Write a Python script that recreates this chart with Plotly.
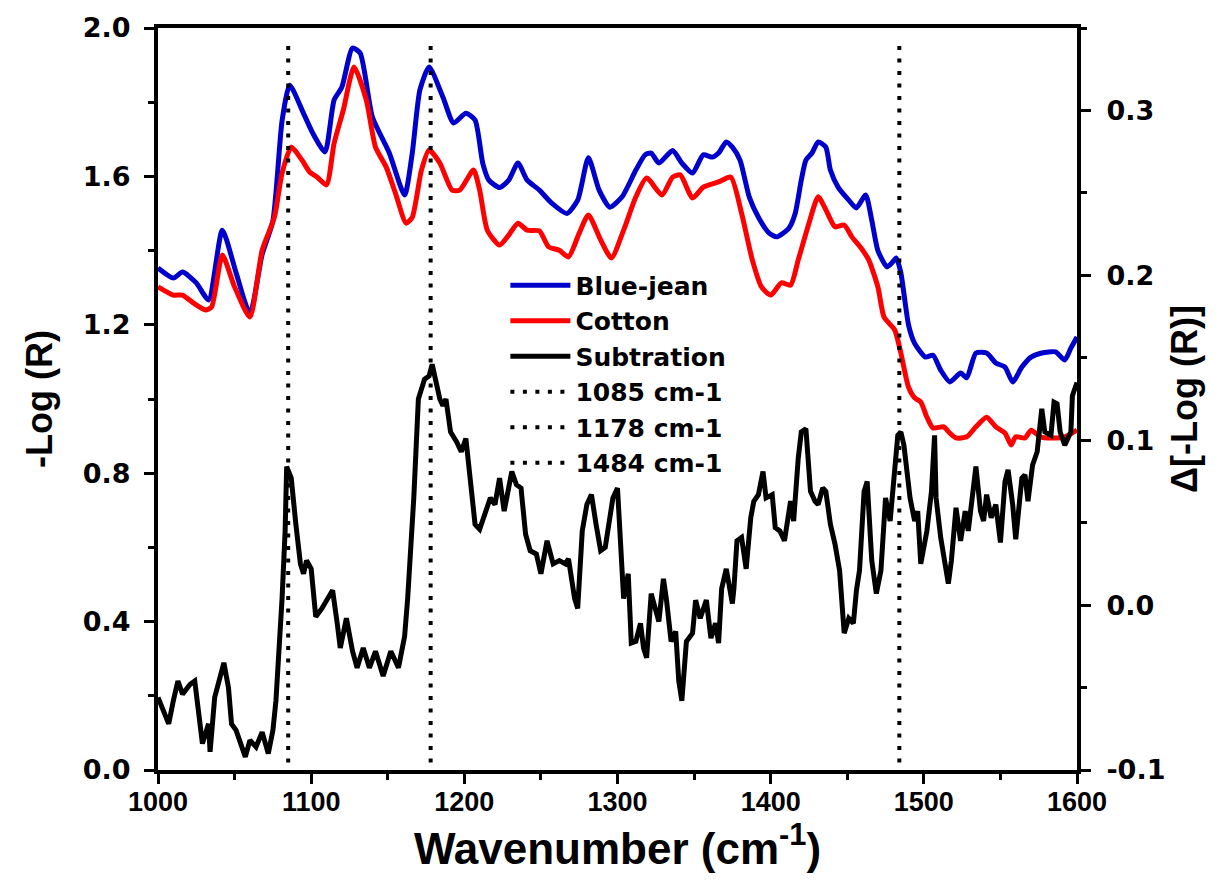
import plotly.graph_objects as go

# ---------------- data ----------------
blue_x = [1000, 1010, 1016, 1025, 1033, 1042, 1051, 1060, 1068, 1075, 1081, 1086, 1095, 1101, 1109,
          1115, 1120, 1127, 1132, 1140, 1151, 1161, 1166, 1171, 1177, 1186, 1193, 1201, 1207, 1212,
          1216, 1223, 1229, 1235, 1241, 1249, 1257, 1267, 1274, 1281, 1288, 1295, 1303, 1312, 1318,
          1322, 1327, 1336, 1342, 1349, 1356, 1362, 1366, 1371, 1375, 1380, 1386, 1392, 1399, 1404,
          1412, 1416, 1420, 1423, 1427, 1431, 1436, 1439, 1444, 1451, 1456, 1462, 1466, 1470, 1476,
          1479, 1482, 1485, 1490, 1494, 1501, 1506, 1511, 1517, 1524, 1528, 1534, 1541, 1547, 1553,
          1558, 1564, 1570, 1577, 1586, 1592, 1596, 1600]
blue_y = [1.353, 1.326, 1.342, 1.313, 1.267, 1.455, 1.340, 1.230, 1.390, 1.480, 1.750, 1.846, 1.770, 1.717, 1.666,
          1.806, 1.840, 1.946, 1.932, 1.760, 1.663, 1.550, 1.663, 1.833, 1.895, 1.814, 1.744, 1.770, 1.752, 1.636,
          1.590, 1.570, 1.590, 1.636, 1.590, 1.563, 1.528, 1.500, 1.536, 1.650, 1.563, 1.517, 1.545, 1.617, 1.658,
          1.663, 1.636, 1.670, 1.636, 1.609, 1.658, 1.652, 1.663, 1.693, 1.679, 1.644, 1.545, 1.490, 1.447, 1.437,
          1.461, 1.500, 1.590, 1.644, 1.663, 1.693, 1.679, 1.617, 1.571, 1.536, 1.515, 1.550, 1.482, 1.400, 1.356,
          1.366, 1.380, 1.340, 1.200, 1.150, 1.113, 1.118, 1.078, 1.046, 1.070, 1.057, 1.124, 1.124, 1.097, 1.086,
          1.046, 1.086, 1.113, 1.124, 1.127, 1.105, 1.137, 1.167]

red_x = [1000, 1010, 1016, 1023, 1031, 1035, 1042, 1050, 1060, 1068, 1076, 1081, 1087, 1094, 1099,
         1104, 1110, 1115, 1121, 1128, 1136, 1142, 1149, 1155, 1162, 1166, 1172, 1177, 1184, 1192,
         1197, 1206, 1210, 1215, 1223, 1229, 1235, 1241, 1249, 1255, 1262, 1268, 1275, 1281, 1289,
         1296, 1304, 1312, 1319, 1329, 1336, 1341, 1349, 1356, 1366, 1374, 1381, 1388, 1394, 1400,
         1407, 1413, 1418, 1425, 1431, 1436, 1442, 1448, 1453, 1459, 1464, 1470, 1474, 1481, 1485,
         1490, 1494, 1498, 1502, 1506, 1513, 1517, 1521, 1528, 1534, 1541, 1547, 1553, 1557, 1560,
         1566, 1570, 1576, 1583, 1592, 1600]
red_y = [1.302, 1.280, 1.280, 1.259, 1.240, 1.248, 1.388, 1.302, 1.221, 1.401, 1.490, 1.609, 1.679, 1.644, 1.612,
         1.598, 1.577, 1.690, 1.779, 1.895, 1.806, 1.679, 1.625, 1.555, 1.474, 1.490, 1.617, 1.671, 1.636, 1.563,
         1.563, 1.617, 1.563, 1.455, 1.415, 1.442, 1.474, 1.455, 1.453, 1.410, 1.401, 1.383, 1.447, 1.496, 1.429,
         1.380, 1.455, 1.545, 1.596, 1.550, 1.598, 1.604, 1.542, 1.571, 1.585, 1.598, 1.501, 1.375, 1.302, 1.280,
         1.313, 1.307, 1.375, 1.474, 1.545, 1.510, 1.464, 1.469, 1.437, 1.407, 1.375, 1.302, 1.221, 1.186, 1.124,
         1.032, 1.003, 0.992, 0.951, 0.922, 0.925, 0.908, 0.895, 0.898, 0.925, 0.951, 0.925, 0.908, 0.876, 0.898,
         0.895, 0.916, 0.898, 0.895, 0.898, 0.916]

sub_x = [1000, 1007, 1010, 1013, 1016, 1021, 1024, 1027, 1029, 1033, 1034, 1037, 1040, 1043, 1046,
         1048, 1051, 1055, 1057, 1060, 1064, 1068, 1072, 1075, 1077, 1081, 1083, 1084, 1087, 1090,
         1093, 1095, 1097, 1100, 1103, 1107, 1111, 1114, 1117, 1119, 1123, 1127, 1130, 1134, 1138,
         1142, 1147, 1152, 1157, 1161, 1163, 1167, 1170, 1174, 1177, 1179, 1184, 1186, 1188, 1191,
         1195, 1198, 1201, 1204, 1207, 1210, 1214, 1217, 1220, 1223, 1226, 1231, 1234, 1237, 1240,
         1243, 1247, 1250, 1254, 1258, 1262, 1266, 1268, 1272, 1274, 1277, 1280, 1283, 1286, 1289,
         1292, 1295, 1297, 1300, 1302, 1304, 1307, 1309, 1312, 1315, 1317, 1319, 1322, 1325, 1327,
         1330, 1332, 1335, 1338, 1340, 1342, 1345, 1349, 1351, 1354, 1358, 1361, 1364, 1366, 1368,
         1371, 1375, 1376, 1378, 1381, 1384, 1387, 1389, 1392, 1395, 1397, 1401, 1403, 1406, 1409,
         1413, 1415, 1418, 1420, 1423, 1426, 1429, 1431, 1434, 1436, 1439, 1442, 1445, 1447, 1448,
         1451, 1454, 1456, 1458, 1461, 1463, 1466, 1469, 1472, 1475, 1478, 1481, 1483, 1485, 1487,
         1491, 1494, 1496, 1498, 1502, 1505, 1507, 1508, 1511, 1516, 1518, 1521, 1524, 1527, 1529,
         1531, 1534, 1537, 1539, 1541, 1544, 1547, 1550, 1553, 1555, 1558, 1560, 1564, 1566, 1568,
         1571, 1574, 1577, 1579, 1583, 1585, 1587, 1589, 1592, 1596, 1597, 1600]
sub_y = [-0.056, -0.072, -0.058, -0.046, -0.054, -0.048, -0.046, -0.068, -0.084, -0.072, -0.089, -0.056, -0.044, -0.035, -0.050,
         -0.072, -0.076, -0.088, -0.092, -0.082, -0.086, -0.077, -0.090, -0.076, -0.058, 0.004, 0.045, 0.084, 0.077, 0.049,
         0.025, 0.019, 0.027, 0.022, -0.007, -0.002, 0.004, 0.009, -0.011, -0.026, -0.008, -0.028, -0.038, -0.026, -0.038,
         -0.028, -0.043, -0.028, -0.038, -0.019, 0.004, 0.065, 0.125, 0.137, 0.139, 0.146, 0.125, 0.121, 0.125, 0.105,
         0.099, 0.093, 0.101, 0.071, 0.049, 0.046, 0.057, 0.065, 0.061, 0.077, 0.057, 0.081, 0.073, 0.071, 0.043,
         0.033, 0.031, 0.019, 0.039, 0.025, 0.027, 0.025, 0.028, 0.004, -0.002, 0.045, 0.061, 0.067, 0.049, 0.033,
         0.035, 0.053, 0.065, 0.071, 0.037, 0.004, 0.019, -0.023, -0.022, -0.011, -0.026, -0.032, 0.007, -0.004, -0.010,
         0.016, 0.003, -0.022, -0.016, -0.046, -0.058, -0.022, -0.017, 0.003, -0.008, 0.003, -0.020, -0.011, -0.023, 0.010,
         0.022, 0.001, 0.010, 0.039, 0.041, 0.022, 0.053, 0.063, 0.067, 0.081, 0.065, 0.067, 0.047, 0.045, 0.039,
         0.063, 0.051, 0.089, 0.105, 0.107, 0.069, 0.063, 0.061, 0.071, 0.069, 0.049, 0.037, 0.021, -0.010, -0.017,
         -0.008, -0.011, 0.009, 0.021, 0.069, 0.075, 0.027, 0.007, 0.021, 0.065, 0.051, 0.081, 0.103, 0.105, 0.097,
         0.065, 0.051, 0.057, 0.025, 0.045, 0.069, 0.103, 0.065, 0.041, 0.013, 0.027, 0.059, 0.039, 0.057, 0.045,
         0.061, 0.084, 0.057, 0.051, 0.067, 0.053, 0.061, 0.038, 0.075, 0.082, 0.061, 0.040, 0.077, 0.079, 0.063,
         0.085, 0.093, 0.119, 0.105, 0.103, 0.123, 0.122, 0.105, 0.097, 0.105, 0.127, 0.135]

marker_lines = [1085, 1178, 1484]
marker_names = ["1085 cm-1", "1178 cm-1", "1484 cm-1"]
marker_span = [0.02, 1.97]

x_ticks = [1000, 1100, 1200, 1300, 1400, 1500, 1600]
y_ticks = [0.0, 0.4, 0.8, 1.2, 1.6, 2.0]
y2_ticks = [-0.1, 0.0, 0.1, 0.2, 0.3]
y2_ticklabels = ["-0.1", "0.0", "0.1", "0.2", "0.3"]

# ---------------- figure ----------------
FONT = "Liberation Sans, Arial, sans-serif"
WIDE = "DejaVu Sans, Liberation Sans, sans-serif"

fig = go.Figure()
fig.add_trace(go.Scatter(x=blue_x, y=blue_y, mode="lines", name="Blue-jean",
                         line=dict(color="#0000CC", width=5, shape="spline", smoothing=0.6)))
fig.add_trace(go.Scatter(x=red_x, y=red_y, mode="lines", name="Cotton",
                         line=dict(color="#FF0000", width=5, shape="spline", smoothing=0.6)))
fig.add_trace(go.Scatter(x=sub_x, y=sub_y, mode="lines", name="Subtration", yaxis="y2",
                         line=dict(color="#000000", width=5)))
for xv, nm in zip(marker_lines, marker_names):
    fig.add_trace(go.Scatter(x=[xv, xv], y=marker_span, mode="lines", name=nm,
                             line=dict(color="#000000", width=4, dash="4px,8.5px")))

axis_common = dict(
    showline=True, linewidth=4, linecolor="black",
    ticks="outside", ticklen=10, tickwidth=3, tickcolor="black",
    showgrid=False, zeroline=False,
)

fig.update_layout(
    width=1225, height=890,
    margin=dict(l=158, r=148, t=26, b=120),
    paper_bgcolor="white", plot_bgcolor="white",
    font=dict(family=FONT, color="black"),
    xaxis=dict(**axis_common, range=[1000, 1600], tickvals=x_ticks, mirror=True,
               tickfont=dict(family=FONT, size=27, color="black", weight="bold"),
               ticklabelstandoff=-5,
               minor=dict(dtick=50, ticks="outside", ticklen=6, tickwidth=3, tickcolor="black"),
               title=dict(text="Wavenumber (cm<sup>-1</sup>)",
                          font=dict(family=FONT, size=44, color="black", weight="bold"), standoff=2)),
    yaxis=dict(**axis_common, range=[0, 2], tickvals=y_ticks, tickformat=".1f",
               tickfont=dict(family=WIDE, size=27, color="black", weight="bold"),
               ticklabelstandoff=8,
               minor=dict(dtick=0.2, ticks="outside", ticklen=6, tickwidth=3, tickcolor="black"),
               title=dict(text="-Log (R)",
                          font=dict(family=FONT, size=36, color="black", weight="bold"), standoff=20)),
    yaxis2=dict(**axis_common, overlaying="y", side="right", range=[-0.1, 0.35],
                tickvals=y2_ticks, ticktext=y2_ticklabels,
                tickfont=dict(family=WIDE, size=27, color="black", weight="bold"),
                ticklabelstandoff=10,
                minor=dict(tick0=-0.1, dtick=0.05, ticks="outside", ticklen=6, tickwidth=3, tickcolor="black"),
                title=dict(text="Δ[-Log (R)]",
                           font=dict(family=FONT, size=36, color="black", weight="bold"), standoff=8)),
    legend=dict(x=0.378, y=0.684, xanchor="left", yanchor="top",
                bgcolor="rgba(0,0,0,0)", borderwidth=0,
                font=dict(family=WIDE, size=25, color="black", weight="bold"),
                tracegroupgap=0, itemwidth=60),
    showlegend=True,
)

fig.write_html("out.html")
